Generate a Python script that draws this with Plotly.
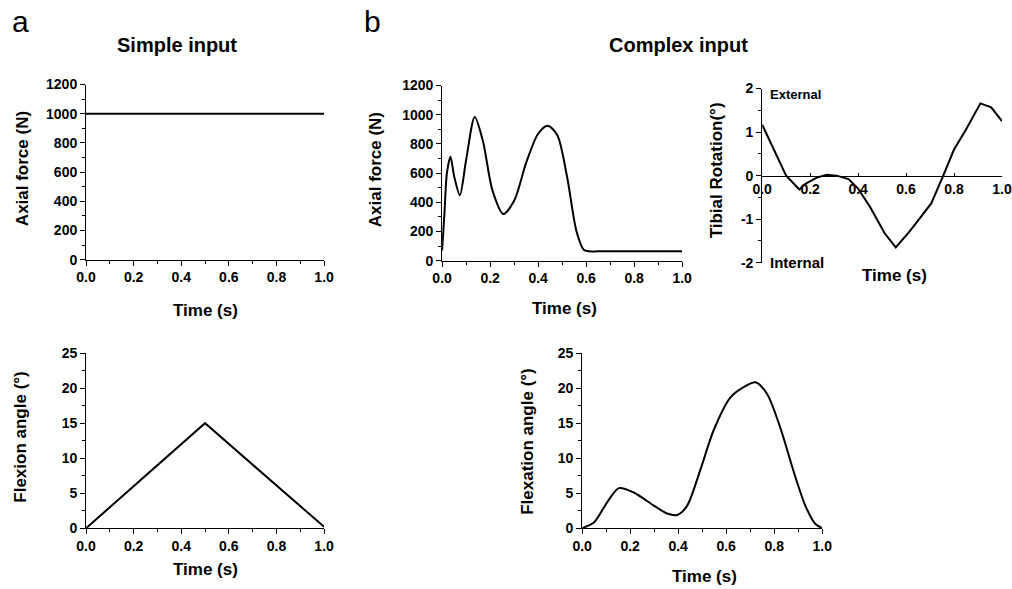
import plotly.graph_objects as go

W, H = 1012, 589

# ---------------- data ----------------
simple_time = [0.0, 1.0]
simple_force = [1000, 1000]

simple_flex_time = [0.0, 0.5, 1.0]
simple_flex = [0.0, 15.0, 0.2]

cx_force_time = [0.0, 0.01, 0.02, 0.035, 0.05, 0.074, 0.10, 0.136, 0.17, 0.21, 0.255,
                 0.30, 0.35, 0.40, 0.44, 0.48, 0.52, 0.56, 0.59, 0.61, 0.65, 0.8, 1.0]
cx_force = [70, 330, 600, 713, 580, 449, 690, 985, 820, 480, 320,
            410, 670, 870, 925, 860, 580, 200, 75, 64, 64, 64, 64]

tib_time = [0.0, 0.06, 0.10, 0.155, 0.18, 0.23, 0.27, 0.31, 0.36, 0.40, 0.45, 0.51,
            0.557, 0.615, 0.67, 0.705, 0.755, 0.80, 0.85, 0.91, 0.955, 1.0]
tib_rot = [1.17, 0.49, 0.0, -0.32, -0.19, -0.04, 0.02, 0.0, -0.08, -0.30, -0.72, -1.32,
           -1.65, -1.28, -0.90, -0.64, 0.0, 0.60, 1.06, 1.66, 1.57, 1.25]

cx_flex_time = [0.0, 0.05, 0.104, 0.153, 0.215, 0.30, 0.354, 0.396, 0.437, 0.493, 0.549,
                0.618, 0.68, 0.722, 0.77, 0.826, 0.882, 0.93, 0.972, 1.0]
cx_flex = [0.0, 0.85, 3.7, 5.73, 5.1, 3.2, 2.1, 1.9, 3.2, 8.4, 14.1,
           18.7, 20.3, 20.85, 19.2, 14.3, 8.0, 3.2, 0.6, 0.0]

x_ticks = [0.0, 0.2, 0.4, 0.6, 0.8, 1.0]
x_ticklabels = ["0.0", "0.2", "0.4", "0.6", "0.8", "1.0"]
rot_ticks = [-2, -1, 0, 1, 2]
rot_ticklabels = ["-2", "-1", "0", "1", "2"]

FONT = "Liberation Sans, Arial, sans-serif"

# compensation for the small centred shrink seen in the rendered photo
SX, OX = 0.98, 10.0
SY, OY = 0.978, 6.0


def clamp(v):
    return min(1.0, max(0.0, v))


def px(x):
    return clamp(((x - OX) / SX) / W)


def py(y):
    return clamp(1 - ((y - OY) / SY) / H)


fig = go.Figure()

line = dict(color="black", width=2)
spline = dict(color="black", width=2, shape="spline", smoothing=0.8)
fig.add_trace(go.Scatter(x=simple_time, y=simple_force, mode="lines", line=line,
                         xaxis="x", yaxis="y"))
fig.add_trace(go.Scatter(x=cx_force_time, y=cx_force, mode="lines", line=spline,
                         xaxis="x2", yaxis="y2"))
fig.add_trace(go.Scatter(x=tib_time, y=tib_rot, mode="lines", line=line,
                         xaxis="x3", yaxis="y3"))
fig.add_trace(go.Scatter(x=simple_flex_time, y=simple_flex, mode="lines", line=line,
                         xaxis="x4", yaxis="y4"))
fig.add_trace(go.Scatter(x=cx_flex_time, y=cx_flex, mode="lines", line=spline,
                         xaxis="x5", yaxis="y5"))

tickfont = dict(family=FONT, size=14, color="black", weight="bold")


def xax(dom, anchor, **kw):
    d = dict(domain=dom, anchor=anchor, range=[0, 1], showline=True, linecolor="black",
             linewidth=1, ticks="outside", ticklen=5, tickwidth=1, tickcolor="black",
             tickvals=x_ticks, ticktext=x_ticklabels, tickfont=tickfont,
             showgrid=False, zeroline=False, fixedrange=True,
             minor=dict(ticks="outside", ticklen=3, tickcolor="black", dtick=0.1, tick0=0,
                        showgrid=False))
    d.update(kw)
    return d


def yax(dom, anchor, rng, dtick, mdtick, **kw):
    d = dict(domain=dom, anchor=anchor, range=rng, showline=True, linecolor="black",
             linewidth=1, ticks="outside", ticklen=5, tickwidth=1, tickcolor="black",
             dtick=dtick, tick0=0, tickfont=tickfont, showgrid=False, zeroline=False,
             fixedrange=True,
             minor=dict(ticks="outside", ticklen=3, tickcolor="black", dtick=mdtick, tick0=0,
                        showgrid=False))
    d.update(kw)
    return d


# panel domains (pixel based, reference coordinates)
p1x = [px(86), px(324)];  p1y = [py(259), py(83)]
p2x = [px(442), px(682)]; p2y = [py(260), py(84)]
p3x = [px(762), px(1002)]; p3y = [py(262), py(87)]
p4x = [px(86), px(324)];  p4y = [py(529), py(353)]
p5x = [px(582), px(822)]; p5y = [py(529), py(353)]

fig.update_layout(
    width=W, height=H, margin=dict(l=0, r=0, t=0, b=0),
    paper_bgcolor="white", plot_bgcolor="white", showlegend=False,
    font=dict(family=FONT, color="black"),
    xaxis=xax(p1x, "y"),
    yaxis=yax(p1y, "x", [0, 1200], 200, 100),
    xaxis2=xax(p2x, "y2"),
    yaxis2=yax(p2y, "x2", [0, 1200], 200, 100),
    xaxis3=xax(p3x, "free", position=py(175), ticks="inside", ticklen=3,
               minor=dict(ticks="", showgrid=False)),
    yaxis3=yax(p3y, "x3", [-2, 2], 1, 0.5, tickmode="array",
               tickvals=rot_ticks, ticktext=rot_ticklabels),
    xaxis4=xax(p4x, "y4"),
    yaxis4=yax(p4y, "x4", [0, 25], 5, 2.5),
    xaxis5=xax(p5x, "y5"),
    yaxis5=yax(p5y, "x5", [0, 25], 5, 2.5),
)

annotations = []


def ann(text, x, y, size, bold=True, angle=0, xanchor="center"):
    annotations.append(dict(
        text=text, x=px(x), y=py(y), xref="paper", yref="paper", showarrow=False,
        xanchor=xanchor, yanchor="middle", textangle=angle,
        font=dict(family=FONT, size=size, color="black", weight="bold" if bold else "normal")))


ann("a", 20, 20, 30, bold=False)
ann("b", 372, 20, 30, bold=False)
ann("Simple input", 177, 43, 20)
ann("Complex input", 678, 43, 20)

ann("Axial force (N)", 22, 168, 17, angle=-90)
ann("Axial force (N)", 375, 169, 17, angle=-90)
ann("Tibial Rotation(°)", 716, 169, 17, angle=-90)
ann("Flexion angle (°)", 21, 438, 17, angle=-90)
ann("Flexation angle (°)", 528, 442, 17, angle=-90)

ann("Time (s)", 205, 310, 17)
ann("Time (s)", 564, 308, 17)
ann("Time (s)", 894, 275, 17)
ann("Time (s)", 205, 570, 17)
ann("Time (s)", 704, 578, 17)

ann("External", 768, 93, 13, xanchor="left")
ann("Internal", 768, 262, 15, xanchor="left")

fig.update_layout(annotations=annotations)

fig.write_html(
    "out.html",
    config={"displayModeBar": False},
    post_script="document.body.style.margin='0';document.body.style.overflow='hidden';",
)
